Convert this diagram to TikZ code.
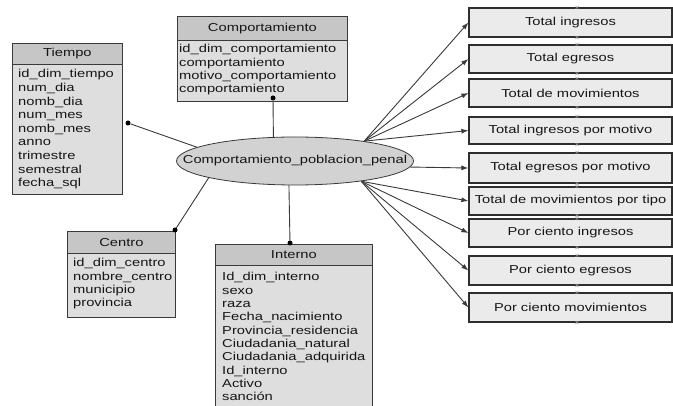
\documentclass[tikz,border=0pt]{standalone}
\usepackage{fontspec}
\setmainfont{Liberation Sans}[FakeStretch=1.28]
\usetikzlibrary{shapes.geometric,arrows.meta}

\definecolor{edge}{HTML}{3A3A3A}
\definecolor{ink}{HTML}{161616}
\definecolor{hdrgray}{HTML}{C6C6C6}
\definecolor{bodygray}{HTML}{DEDEDE}
\definecolor{factgray}{HTML}{D2D2D2}
\definecolor{mfill}{HTML}{EBEBEB}
\definecolor{mdraw}{HTML}{2E2E2E}
\definecolor{tickgray}{HTML}{9A9A9A}

\begin{document}
\begin{tikzpicture}[x=1pt,y=-1pt,
  font=\fontsize{11.5pt}{13.5pt}\selectfont,
  hdr/.style={draw=edge, fill=hdrgray, line width=0.8pt, inner sep=0pt,
    anchor=north west, text=ink},
  tbody/.style={draw=edge, fill=bodygray, line width=0.8pt, inner sep=0pt,
    anchor=north west},
  field/.style={anchor=base west, inner sep=0pt, text=ink},
  measure/.style={draw=mdraw, fill=mfill, line width=1.2pt, inner sep=0pt,
    minimum width=203pt, minimum height=28pt, text=ink},
  fact/.style={ellipse, draw=edge, fill=factgray, line width=0.8pt,
    inner sep=0pt, minimum width=237pt, minimum height=48pt, text=ink},
  dot/.style={circle, fill=black, inner sep=0pt, minimum size=5pt},
  link/.style={draw=edge, line width=0.9pt},
  arrowlink/.style={link, -{Latex[length=7pt,width=5pt]}},
  tickmark/.style={draw=tickgray, line width=0.5pt}
]
\useasboundingbox (0,0) rectangle (673,406);
\fill[white] (0,0) rectangle (673,406);
\clip (0,0) rectangle (673,406);

% ---------- fact ----------
\node[fact] (cpp) at (295,161) {\makebox[0pt]{Comportamiento\_poblacion\_penal}};

% ---------- Tiempo ----------
\node[tbody, minimum width=110pt, minimum height=130pt] (tiempo-body) at (12,64) {};
\node[hdr, minimum width=110pt, minimum height=21pt] (tiempo) at (12,43) {Tiempo};
\foreach \t [count=\i] in {id\_dim\_tiempo, num\_dia, nomb\_dia, num\_mes,
    nomb\_mes, anno, trimestre, semestral, fecha\_sql}
  \node[field] (tiempo-\i) at (18,{78+13.6*(\i-1)}) {\t};

% ---------- Comportamiento ----------
\node[tbody, minimum width=170pt, minimum height=61pt] (comp-body) at (177,40) {};
\node[hdr, minimum width=170pt, minimum height=24pt] (comp) at (177,16) {Comportamiento};
\foreach \t [count=\i] in {id\_dim\_comportamiento, comportamiento,
    motivo\_comportamiento, comportamiento}
  \node[field] (comp-\i) at (179,{53+13.3*(\i-1)}) {\t};

% ---------- Centro ----------
\node[tbody, minimum width=108pt, minimum height=64pt] (centro-body) at (67,253) {};
\node[hdr, minimum width=108pt, minimum height=22pt] (centro) at (67,231) {Centro};
\foreach \t [count=\i] in {id\_dim\_centro, nombre\_centro, municipio, provincia}
  \node[field] (centro-\i) at (73,{267+13.2*(\i-1)}) {\t};

% ---------- Interno ----------
\node[tbody, minimum width=157pt, minimum height=150pt] (interno-body) at (215,265) {};
\node[hdr, minimum width=157pt, minimum height=21pt] (interno) at (215,244) {Interno};
\foreach \t [count=\i] in {Id\_dim\_interno, sexo, raza, Fecha\_nacimiento,
    Provincia\_residencia, Ciudadania\_natural, Ciudadania\_adquirida,
    Id\_interno, Activo, sanción}
  \node[field] (interno-\i) at (222,{281+13.3*(\i-1)}) {\t};

% ---------- dimension links ----------
\node[dot] (dt) at (128,123) {};
\node[dot] (dc) at (273,98) {};
\node[dot] (dz) at (175,230) {};
\node[dot] (di) at (290,243) {};
\draw[link] (dt) -- (cpp.172);
\draw[link] (dc) -- (cpp.132.5);
\draw[link] (dz) -- (cpp.191);
\draw[link] (di) -- (cpp.256);

% ---------- measures ----------
\node[measure, minimum height=29pt] (m1) at (570.5,22.5) {Total ingresos};
\node[measure] (m2) at (570.5,59) {Total egresos};
\node[measure] (m3) at (570.5,93) {Total de movimientos};
\node[measure, minimum height=27pt] (m4) at (570.5,130.5) {Total ingresos por motivo};
\node[measure, minimum height=30pt] (m5) at (570.5,168) {Total egresos por motivo};
\node[measure] (m6) at (570.5,201) {Total de movimientos por tipo};
\node[measure] (m7) at (570.5,233) {Por ciento ingresos};
\node[measure, minimum height=29pt] (m8) at (570.5,270.5) {Por ciento egresos};
\node[measure, minimum height=29pt] (m9) at (570.5,307.5) {Por ciento movimientos};

% small connection marks on the measure boxes
\foreach \m in {m1,m2,m3,m4,m5,m6,m7,m8,m9} {
  \draw[tickmark] ([xshift=6.5pt]\m.north) +(-1.5,-1.5) -- +(1.5,1.5)
                  +(-1.5,1.5) -- +(1.5,-1.5);
  \draw[tickmark] ([xshift=6.5pt]\m.south) +(-1.5,-1.5) -- +(1.5,1.5)
                  +(-1.5,1.5) -- +(1.5,-1.5);
}

% ---------- measure arrows ----------
\foreach \m in {m1,m2,m3,m4}
  \draw[arrowlink] (cpp.16) -- (\m.west);
\draw[arrowlink] (cpp.-3) -- (m5.west);
\foreach \m in {m6,m7,m8,m9}
  \draw[arrowlink] (cpp.-17) -- (\m.west);
\end{tikzpicture}
\end{document}
